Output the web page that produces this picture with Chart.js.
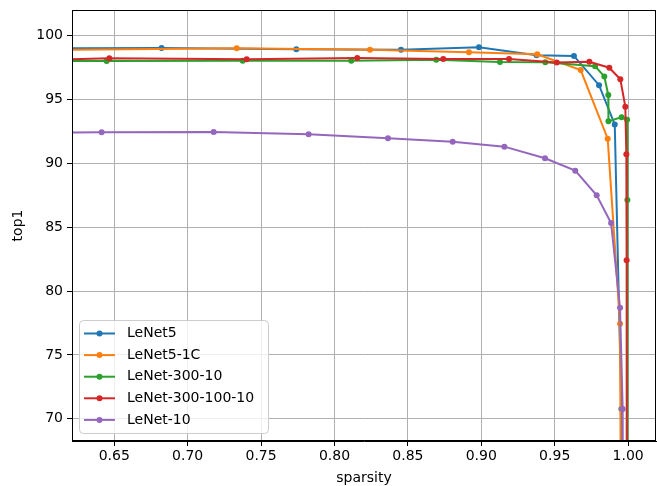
<!DOCTYPE html>
<html>
<head>
<meta charset="utf-8">
<script src="https://cdn.jsdelivr.net/npm/chart.js@4.4.1/dist/chart.umd.min.js"></script>
<style>
  body { margin: 0; background: #fff; }
  #wrap { width: 657px; height: 486px; }
</style>
</head>
<body>
<div id="wrap"><canvas id="chart" width="657" height="486"></canvas></div>
<script>
// values (first / last points lie outside the visible range)
const labels = ["LeNet5", "LeNet5-1C", "LeNet-300-10", "LeNet-300-100-10", "LeNet-10"];
const colors = ["#1f77b4", "#ff7f0e", "#2ca02c", "#d62728", "#9467bd"];

const lenet5Sparsity = [0.60, 0.6822, 0.7740, 0.8453, 0.8984, 0.9377, 0.9631, 0.9802, 0.9909, 0.9954, 0.9965];
const lenet5Top1     = [99.00, 99.04, 98.94, 98.90, 99.09, 98.47, 98.41, 96.12, 93.05, 70.77, 11.35];

const lenet51cSparsity = [0.60, 0.7334, 0.8242, 0.8916, 0.9381, 0.9677, 0.9861, 0.9945, 0.9970];
const lenet51cTop1     = [98.88, 99.01, 98.90, 98.70, 98.54, 97.31, 91.93, 77.45, 11.35];

const lenet300Sparsity = [0.60, 0.6448, 0.7375, 0.8114, 0.8693, 0.9127, 0.9436, 0.9775, 0.9838, 0.9865, 0.9866, 0.9956, 0.9993, 0.9995, 0.9997];
const lenet300Top1     = [98.00, 98.02, 98.04, 98.04, 98.12, 97.94, 97.92, 97.60, 96.81, 95.36, 93.29, 93.62, 93.42, 87.14, 11.35];

const lenet300100Sparsity = [0.60, 0.6466, 0.7402, 0.8155, 0.8741, 0.9189, 0.9514, 0.9736, 0.9872, 0.9947, 0.9981, 0.9988, 0.9990, 0.9993];
const lenet300100Top1     = [98.10, 98.23, 98.15, 98.25, 98.18, 98.18, 97.89, 97.96, 97.49, 96.59, 94.44, 90.71, 82.41, 11.35];

const lenet10Sparsity = [0.55, 0.6414, 0.7177, 0.7824, 0.8364, 0.8805, 0.9157, 0.9434, 0.9640, 0.9786, 0.9884, 0.9945, 0.9963, 0.9975];
const lenet10Top1     = [92.40, 92.43, 92.46, 92.28, 91.97, 91.70, 91.31, 90.40, 89.43, 87.50, 85.33, 78.70, 70.77, 11.35];

const xTicks = [0.65, 0.70, 0.75, 0.80, 0.85, 0.90, 0.95, 1.00];
const yTicks = [70, 75, 80, 85, 90, 95, 100];
const xMin = 0.6212, xMax = 1.019;
const yMin = 68.26, yMax = 102.01;

const seriesX = [lenet5Sparsity, lenet51cSparsity, lenet300Sparsity, lenet300100Sparsity, lenet10Sparsity];
const seriesY = [lenet5Top1, lenet51cTop1, lenet300Top1, lenet300100Top1, lenet10Top1];

const font = { family: "DejaVu Sans", size: 14 };

function points(xs, ys) {
  return xs.map((x, i) => ({ x: x, y: ys[i] }));
}

// top/right spines + matplotlib-like legend in the lower left
const framePlugin = {
  id: "frame",
  afterLayout(chart) {
    // stretch the plot area to the right edge like the reference
    const a = chart.chartArea, x = chart.scales.x;
    a.right = 656;
    a.width = a.right - a.left;
    x.right = 656;
    x.width = x.right - x.left;
    x.configure();
    x._labelItems = null;
  },
  afterDatasetsDraw(chart) {
    const { ctx, chartArea: a } = chart;
    ctx.save();
    ctx.strokeStyle = "#000";
    ctx.lineWidth = 1;
    ctx.strokeRect(Math.round(a.left) + 0.5, Math.round(a.top) + 0.5,
      Math.round(a.right - a.left) - 1, Math.round(a.bottom - a.top) - 1);
    ctx.restore();
  },
  afterDraw(chart) {
    const ctx = chart.ctx;
    const bx = 79.5, by = 320.5, bw = 189, bh = 113, r = 4;
    ctx.save();
    ctx.beginPath();
    ctx.roundRect(bx, by, bw, bh, r);
    ctx.fillStyle = "rgba(255,255,255,0.8)";
    ctx.fill();
    ctx.strokeStyle = "#cccccc";
    ctx.lineWidth = 1;
    ctx.stroke();
    ctx.font = "14px 'DejaVu Sans'";
    ctx.textBaseline = "middle";
    ctx.fillStyle = "#000";
    chart.data.datasets.forEach((ds, i) => {
      const y = 333.5 + i * 21.6;
      ctx.strokeStyle = ds.borderColor;
      ctx.lineWidth = 2;
      ctx.beginPath();
      ctx.moveTo(84, y);
      ctx.lineTo(115, y);
      ctx.stroke();
      ctx.fillStyle = ds.borderColor;
      ctx.beginPath();
      ctx.arc(99.5, y, 3, 0, Math.PI * 2);
      ctx.fill();
      ctx.fillStyle = "#000";
      ctx.fillText(ds.label, 127, y);
    });
    ctx.restore();
  }
};

new Chart(document.getElementById("chart").getContext("2d"), {
  type: "line",
  data: {
    datasets: labels.map((name, i) => ({
      label: name,
      data: points(seriesX[i], seriesY[i]),
      borderColor: colors[i],
      backgroundColor: colors[i],
      pointBackgroundColor: colors[i],
      pointBorderWidth: 0,
      pointRadius: 3,
      borderWidth: 2,
      tension: 0,
      fill: false,
      order: labels.length - i,
    })),
  },
  options: {
    responsive: false,
    animation: false,
    layout: { padding: { top: 10, right: 1, left: 0, bottom: 0 } },
    plugins: {
      legend: { display: false },
      tooltip: { enabled: false },
    },
    scales: {
      x: {
        type: "linear",
        min: xMin,
        max: xMax,
        afterBuildTicks: (s) => { s.ticks = xTicks.map(v => ({ value: v })); },
        afterFit: (s) => { s.height = 45; s.paddingLeft = 0; s.paddingRight = 0; },
        grid: { color: "#b0b0b0", lineWidth: 1, tickColor: "#000", tickLength: 5 },
        border: { color: "#000", width: 1 },
        ticks: {
          color: "#000", font: font, padding: 2, maxRotation: 0, autoSkip: false,
          callback: (v) => Number(v).toFixed(2),
        },
        title: { display: true, text: "sparsity", color: "#000", font: font, padding: { top: 0, bottom: -1 } },
      },
      y: {
        type: "linear",
        min: yMin,
        max: yMax,
        afterBuildTicks: (s) => { s.ticks = yTicks.map(v => ({ value: v })); },
        afterFit: (s) => { s.width = 72; s.paddingTop = 0; s.paddingBottom = 0; },
        grid: { color: "#b0b0b0", lineWidth: 1, tickColor: "#000", tickLength: 5 },
        border: { color: "#000", width: 1 },
        ticks: {
          color: "#000", font: font, padding: 4, autoSkip: false,
          callback: (v) => String(v),
        },
        title: { display: true, text: "top1", color: "#000", font: font, padding: { top: 10, bottom: 0 } },
      },
    },
  },
  plugins: [framePlugin],
});
</script>
</body>
</html>
